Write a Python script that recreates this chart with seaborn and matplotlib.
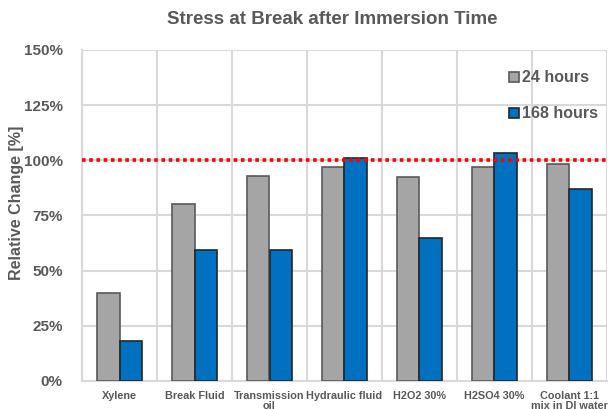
import matplotlib
matplotlib.use("Agg")
import matplotlib.pyplot as plt
import seaborn as sns
import pandas as pd
from matplotlib.lines import Line2D

categories = ["Xylene", "Break Fluid", "Transmission\noil", "Hydraulic fluid",
              "H2O2 30%", "H2SO4 30%", "Coolant 1:1\nmix in DI water"]
series_names = ["24 hours", "168 hours"]
values_24h = [40, 80, 93, 97, 92.5, 97, 98.5]
values_168h = [18, 59.5, 59.5, 101, 65, 103.5, 87]
yticks = [0, 25, 50, 75, 100, 125, 150]
ytick_labels = ["0%", "25%", "50%", "75%", "100%", "125%", "150%"]
reference_level = 100

df = pd.DataFrame({
    "Medium": categories * 2,
    "Series": [series_names[0]] * len(categories) + [series_names[1]] * len(categories),
    "Value": values_24h + values_168h,
})

sns.set_theme(style="white")
plt.rcParams["font.family"] = ["Liberation Sans", "DejaVu Sans"]
txt = "#595959"
grid_c = "#D9D9D9"

fig = plt.figure(figsize=(6.11, 4.09), dpi=100)
ax = fig.add_axes([82/611, 1-381/409, (607-82)/611, (381-50)/409])

palette = {"24 hours": "#A5A5A5", "168 hours": "#0070C0"}
sns.barplot(data=df, x="Medium", y="Value", hue="Series", palette=palette,
            width=0.587, gap=0, ax=ax, legend=False, saturation=1, zorder=3)
edge_cols = ["#595959", "#262626"]
for i, cont in enumerate(ax.containers):
    for p in cont:
        p.set_edgecolor(edge_cols[i])
        p.set_linewidth(1.2)
        p.set_zorder(3)

ax.set_xlim(-0.5, 6.5)
ax.set_ylim(0, 150)
ax.set_yticks(yticks)
ax.set_yticklabels(ytick_labels)
ax.set_xticks(range(len(categories)))
ax.set_xticklabels(categories)
ax.set_xticks([i + 0.5 for i in range(-1, len(categories))], minor=True)
ax.tick_params(axis="x", which="both", length=0, labelsize=7.8, pad=7, labelcolor=txt)
ax.tick_params(axis="y", length=0, labelsize=11, pad=14, labelcolor=txt)
for lab in ax.get_xticklabels() + ax.get_yticklabels():
    lab.set_fontweight("bold")
for lab in ax.get_xticklabels():
    lab.set_linespacing(1.0)
ax.grid(True, axis="y", which="major", color=grid_c, linewidth=1.5, zorder=0)
ax.grid(True, axis="x", which="minor", color=grid_c, linewidth=1.5, zorder=0)
ax.grid(False, axis="x", which="major")
for s in ["top", "right"]:
    ax.spines[s].set_visible(False)
for s in ["left", "bottom"]:
    ax.spines[s].set_color(grid_c)
    ax.spines[s].set_linewidth(1.5)
    ax.spines[s].set_zorder(1)

ax.axhline(reference_level, color="#FF0000", linestyle=(0, (1, 1)), linewidth=2.6, zorder=4)

ax.set_xlabel("")
ax.set_ylabel("")
fig.text(17/611, 1-203/409, "Relative Change [%]", rotation=90, ha="center", va="center",
         fontsize=11.5, fontweight="bold", color=txt)

fig.text(332/611, 1-19/409, "Stress at Break after Immersion Time", ha="center", va="center",
         fontsize=13.5, fontweight="bold", color=txt)

handles = [Line2D([0], [0], marker="s", linestyle="none", markersize=7,
                  markerfacecolor=palette[n], markeredgecolor=edge_cols[i], markeredgewidth=1.2)
           for i, n in enumerate(series_names)]
leg = ax.legend(handles, series_names, loc="upper left", bbox_to_anchor=(495/611, 1-56/409),
                bbox_transform=fig.transFigure, frameon=False, handlelength=0.6,
                handletextpad=0.2, labelspacing=1.3, prop={"size": 11.5, "weight": "bold"})
for t in leg.get_texts():
    t.set_color(txt)

fig.savefig("out.png", dpi=100)
